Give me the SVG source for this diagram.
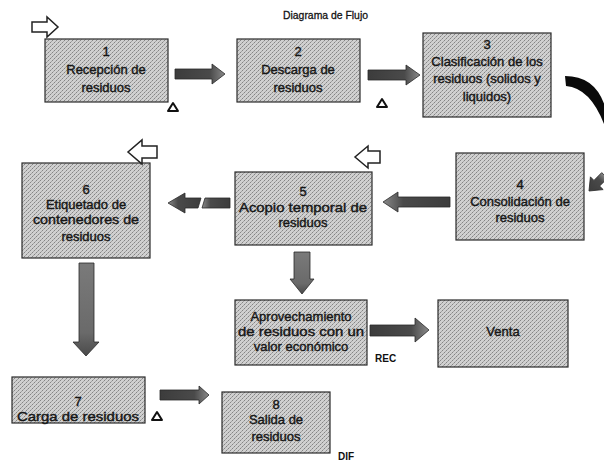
<svg xmlns="http://www.w3.org/2000/svg" width="604" height="461" viewBox="0 0 604 461">
<defs>
<pattern id="dither" width="4" height="4" patternUnits="userSpaceOnUse">
<rect width="4" height="4" fill="#d0d0d0"/>
<rect x="0" y="0" width="1" height="1" fill="#858585"/>
<rect x="2" y="2" width="1" height="1" fill="#858585"/>
<rect x="1" y="3" width="1" height="1" fill="#a5a5a5"/>
<rect x="3" y="1" width="1" height="1" fill="#a5a5a5"/>
</pattern>
<linearGradient id="gh" x1="0" y1="0" x2="1" y2="0">
<stop offset="0" stop-color="#3c3c3c"/>
<stop offset="0.7" stop-color="#4a4a4a"/>
<stop offset="1" stop-color="#8a8a8a"/>
</linearGradient>
<linearGradient id="ghl" x1="1" y1="0" x2="0" y2="0">
<stop offset="0" stop-color="#3c3c3c"/>
<stop offset="0.7" stop-color="#4a4a4a"/>
<stop offset="1" stop-color="#8a8a8a"/>
</linearGradient>
<linearGradient id="gv" x1="0" y1="0" x2="0" y2="1">
<stop offset="0" stop-color="#7a7a7a"/>
<stop offset="0.75" stop-color="#6a6a6a"/>
<stop offset="1" stop-color="#4a4a4a"/>
</linearGradient>
</defs>
<style>
.box{fill:url(#dither);stroke:#2a2a2a;stroke-width:1.2}
.t{font-family:"Liberation Sans",Arial,sans-serif;font-size:13px;fill:#161616;stroke:#161616;stroke-width:0.4;text-anchor:middle}
.lbl{font-family:"Liberation Sans",Arial,sans-serif;font-size:10px;font-weight:bold;fill:#111}
.ar{fill:url(#gh);stroke:#2a2a2a;stroke-width:0.8}
.arl{fill:url(#ghl);stroke:#2a2a2a;stroke-width:0.8}
.arv{fill:url(#gv);stroke:#2a2a2a;stroke-width:0.8}
.open{fill:#fff;stroke:#222;stroke-width:1.5;stroke-linejoin:miter}
.tri{fill:#fff;stroke:#111;stroke-width:2;stroke-linejoin:round}
</style>

<text x="283" y="19" font-family="'Liberation Sans',Arial,sans-serif" font-size="11.5" fill="#111" stroke="#111" stroke-width="0.3" textLength="85" lengthAdjust="spacingAndGlyphs">Diagrama de Flujo</text>

<g id="n1">
<rect class="box" x="45" y="39" width="123" height="63"/>
<text class="t" x="106" y="56">1</text>
<text class="t" x="106" y="74">Recepción de</text>
<text class="t" x="106" y="92">residuos</text>
</g>
<g id="n2">
<rect class="box" x="237" y="39" width="123" height="63"/>
<text class="t" x="298" y="56">2</text>
<text class="t" x="298" y="74">Descarga de</text>
<text class="t" x="298" y="92">residuos</text>
</g>
<g id="n3">
<rect class="box" x="423" y="33" width="128" height="84"/>
<text class="t" x="487" y="49">3</text>
<text class="t" x="487" y="66">Clasificación de los</text>
<text class="t" x="487" y="83">residuos (solidos y</text>
<text class="t" x="487" y="101">liquidos)</text>
</g>
<g id="n4">
<rect class="box" x="456" y="153" width="128" height="87"/>
<text class="t" x="520" y="189">4</text>
<text class="t" x="520" y="206">Consolidación de</text>
<text class="t" x="520" y="222">residuos</text>
</g>
<g id="n5">
<rect class="box" x="235" y="172" width="137" height="73"/>
<text class="t" x="303" y="196">5</text>
<text class="t" x="303" y="212" textLength="128" lengthAdjust="spacingAndGlyphs">Acopio temporal de</text>
<text class="t" x="303" y="227">residuos</text>
</g>
<g id="n6">
<rect class="box" x="22" y="163" width="128" height="95"/>
<text class="t" x="86" y="194">6</text>
<text class="t" x="86" y="209">Etiquetado de</text>
<text class="t" x="86" y="224" textLength="106" lengthAdjust="spacingAndGlyphs">contenedores de</text>
<text class="t" x="86" y="241">residuos</text>
</g>
<g id="n_aprov">
<rect class="box" x="235" y="300" width="132" height="65"/>
<text class="t" x="301" y="321">Aprovechamiento</text>
<text class="t" x="301" y="336" textLength="126" lengthAdjust="spacingAndGlyphs">de residuos con un</text>
<text class="t" x="301" y="351">valor económico</text>
</g>
<g id="n_venta">
<rect class="box" x="438" y="300" width="130" height="67"/>
<text class="t" x="503" y="336">Venta</text>
</g>
<g id="n7">
<rect class="box" x="12" y="377" width="133" height="46"/>
<text class="t" x="78" y="406">7</text>
<text class="t" x="78" y="421" textLength="122" lengthAdjust="spacingAndGlyphs">Carga de residuos</text>
</g>
<g id="n8">
<rect class="box" x="222" y="392" width="108" height="61"/>
<text class="t" x="276" y="409">8</text>
<text class="t" x="276" y="424">Salida de</text>
<text class="t" x="276" y="441">residuos</text>
</g>

<g id="connectors">
<polygon class="ar" points="175,69 212,69 212,64 225,74 212,84 212,79 175,79"/>
<polygon class="ar" points="368,70 406,70 406,65 420,75 406,85 406,80 368,80"/>
<path d="M565,76 Q597,76 606,110 L604,124 Q590,88 566,86 Z" fill="#0a0a0a"/>
<polygon class="arl" transform="translate(589,191) rotate(135)" points="-22,-4 -11,-4 -11,-9 0,0 -11,9 -11,4 -22,4"/>
<polygon class="arl" points="450,197 398,197 398,192 383,202 398,212 398,207 450,207"/>
<polygon class="arl" points="201,198 185,198 185,193 168,203 185,213 185,208 198,208"/>
<polygon class="arl" points="205,198 230,198 230,208 202,208"/>
<polygon class="arv" points="294,252 310,252 310,279 314,279 302,294 290,279 294,279"/>
<polygon class="arv" points="79,263 94,263 94,342 99,342 86,356 73,342 79,342"/>
<polygon class="ar" points="370,325 415,325 415,318 429,330 415,342 415,336 370,336"/>
<polygon class="ar" points="160,390 199,390 199,386 209,395 199,404 199,400 160,400"/>
<polygon class="open" points="32,22 47,22 47,17 58,27 47,37 47,32 32,32"/>
<polygon class="open" points="380,151 368,151 368,146 355,157 368,168 368,163 380,163"/>
<polygon class="open" points="157,146 142,146 142,140 128,152 142,164 142,158 157,158"/>
</g>

<g id="marks">
<polygon class="tri" points="173,103 178,111 168,111"/>
<polygon class="tri" points="382,99 387,107 377,107"/>
<polygon class="tri" points="157,412 162,420 152,420"/>
<text class="lbl" x="375" y="362">REC</text>
<text class="lbl" x="338" y="460">DIF</text>
</g>
</svg>
